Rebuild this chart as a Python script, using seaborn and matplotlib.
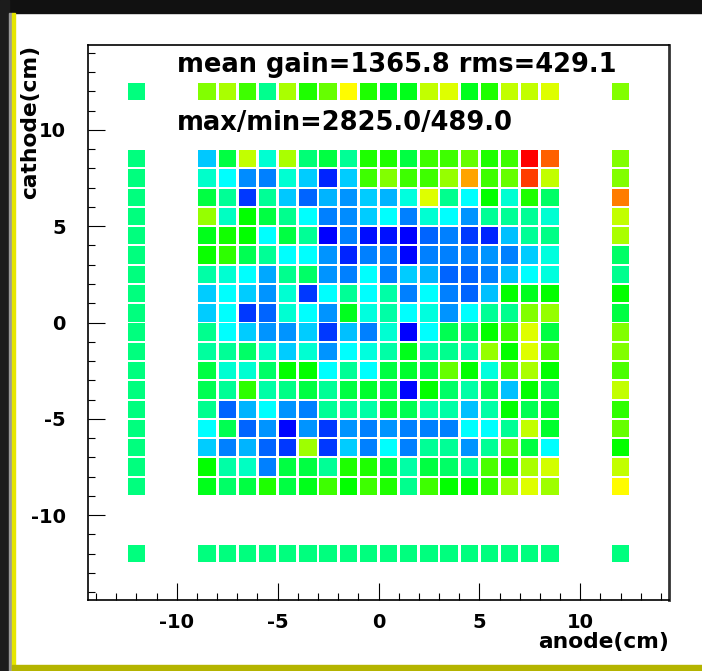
import numpy as np
import pandas as pd
import seaborn as sns
import matplotlib
matplotlib.use('Agg')
import matplotlib.pyplot as plt
from matplotlib.colors import LinearSegmentedColormap
from matplotlib.patches import Rectangle

# channel positions (cm)
anode_cm = [-8.5, -7.5, -6.5, -5.5, -4.5, -3.5, -2.5, -1.5, -0.5,
            0.5, 1.5, 2.5, 3.5, 4.5, 5.5, 6.5, 7.5, 8.5]
cathode_cm = [8.5, 7.5, 6.5, 5.5, 4.5, 3.5, 2.5, 1.5, 0.5,
              -0.5, -1.5, -2.5, -3.5, -4.5, -5.5, -6.5, -7.5, -8.5]
edge_cm = 12.0

# gain of main pad grid, rows top (cathode 8.5) to bottom, columns anode -8.5 .. 8.5
gain_main = [
    [946, 1510, 2095, 1180, 2045, 1390, 1510, 1316, 1725, 1725, 1510, 1800, 1800, 1890, 1725, 1800, 2825, 2600],
    [1200, 1073, 810, 790, 1180, 960, 580, 960, 1800, 1950, 1800, 1800, 1998, 2450, 1800, 1890, 2680, 2095],
    [1510, 1316, 625, 1316, 946, 720, 900, 830, 960, 900, 1150, 2160, 1330, 1073, 1657, 1180, 1725, 1420],
    [1998, 1215, 1657, 1510, 1330, 1073, 781, 810, 960, 1073, 781, 1180, 1073, 830, 1316, 1316, 1316, 1180],
    [1600, 1700, 1657, 1073, 1510, 1316, 489, 781, 520, 530, 489, 720, 781, 625, 580, 930, 1316, 1350],
    [1680, 1760, 1472, 1316, 1073, 1073, 830, 580, 781, 781, 500, 781, 781, 781, 830, 781, 960, 1150],
    [1280, 1180, 1073, 880, 1330, 1420, 830, 781, 1073, 781, 960, 900, 720, 720, 781, 930, 1073, 1150],
    [960, 1073, 960, 830, 1180, 625, 1073, 1316, 1073, 1280, 781, 1073, 781, 720, 930, 1657, 1590, 1657],
    [960, 1073, 625, 720, 1180, 1073, 830, 1590, 1150, 1280, 1073, 1150, 830, 1073, 1316, 1330, 1950, 1998],
    [1330, 1073, 960, 830, 830, 960, 625, 930, 781, 1180, 489, 1073, 1472, 1420, 1657, 1800, 2160, 1510],
    [1300, 1316, 1420, 1215, 960, 1180, 830, 1073, 1150, 1280, 1600, 1280, 1330, 1280, 1998, 1657, 2160, 1830],
    [1510, 1180, 1180, 1420, 1657, 1657, 1073, 1316, 1073, 1510, 1550, 1510, 1890, 1657, 1150, 1800, 2045, 1657],
    [1472, 1316, 1760, 1280, 1350, 1510, 1316, 1510, 1550, 1510, 500, 1657, 1420, 1280, 1472, 930, 1657, 1472],
    [1330, 720, 900, 1073, 830, 781, 1316, 1316, 1280, 1510, 1472, 1280, 1280, 930, 1280, 1657, 1472, 1550],
    [1073, 1472, 720, 830, 500, 830, 625, 830, 781, 830, 781, 781, 781, 1073, 1073, 1316, 2095, 1550],
    [960, 781, 900, 720, 625, 2020, 625, 960, 781, 1073, 781, 1316, 1316, 830, 1316, 1890, 1510, 1073],
    [1657, 1280, 1215, 781, 1510, 1510, 1316, 1725, 1725, 1510, 1280, 1510, 1420, 1316, 1830, 1725, 2045, 2140],
    [1600, 1420, 1510, 1725, 1510, 1600, 1800, 1657, 1800, 1725, 1330, 1800, 1657, 1657, 1760, 2020, 2160, 2020],
]

# outer strips
gain_top = [1950, 2045, 1800, 1330, 2045, 1725, 1890, 2241, 1725,
            1590, 1600, 2095, 2160, 1590, 1725, 2095, 2095, 2160]
gain_bottom = [1365.8, 1365.8, 1365.8, 1365.8, 1365.8, 1365.8, 1365.8, 1365.8, 1365.8,
               1365.8, 1365.8, 1365.8, 1365.8, 1365.8, 1365.8, 1365.8, 1365.8, 1365.8]
gain_left = [1365.8, 1365.8, 1365.8, 1365.8, 1365.8, 1365.8, 1365.8, 1365.8, 1365.8,
             1365.8, 1365.8, 1365.8, 1365.8, 1365.8, 1365.8, 1365.8, 1365.8, 1365.8]
gain_right = [1950, 1950, 2533, 2095, 2045, 1420, 1330, 1657, 1510,
              1950, 1950, 1830, 2095, 1760, 1890, 1657, 2095, 2241]
gain_corners = {'tl': 1365.8, 'tr': 1950, 'bl': 1365.8, 'br': 1365.8}

gain_min, gain_max = 489.0, 2825.0

# long table
rows = []
for i, yc in enumerate(cathode_cm):
    for j, xc in enumerate(anode_cm):
        rows.append((xc, yc, gain_main[i][j]))
for j, xc in enumerate(anode_cm):
    rows.append((xc, edge_cm, gain_top[j]))
    rows.append((xc, -edge_cm, gain_bottom[j]))
for i, yc in enumerate(cathode_cm):
    rows.append((-edge_cm, yc, gain_left[i]))
    rows.append((edge_cm, yc, gain_right[i]))
rows.append((-edge_cm, edge_cm, gain_corners['tl']))
rows.append((edge_cm, edge_cm, gain_corners['tr']))
rows.append((-edge_cm, -edge_cm, gain_corners['bl']))
rows.append((edge_cm, -edge_cm, gain_corners['br']))
df = pd.DataFrame(rows, columns=['anode', 'cathode', 'gain'])

sns.set_theme(style='white')
plt.rcParams['font.family'] = ['DejaVu Sans']
plt.rcParams['font.weight'] = 'bold'
plt.rcParams['axes.unicode_minus'] = False
plt.rcParams['text.color'] = 'black'
plt.rcParams['axes.labelcolor'] = 'black'
plt.rcParams['xtick.color'] = 'black'
plt.rcParams['ytick.color'] = 'black'

root_cmap = LinearSegmentedColormap.from_list(
    'root', ['#0000ff', '#00ffff', '#00ff00', '#ffff00', '#ff0000'])

fig = plt.figure(figsize=(7.02, 6.71), dpi=100)
fig.patch.set_facecolor('white')
W, H = 702.0, 671.0
ax = fig.add_axes([88 / W, 1 - 600 / H, 581 / W, 555 / H])
ax.set_facecolor('white')
ax.set_xlim(-14.4, 14.4)
ax.set_ylim(-14.4, 14.4)

# square marker side from the axis scale: pads are ~0.86 cm wide
p0 = ax.transData.transform((0, 0))
p1 = ax.transData.transform((1, 0))
side_pt = 0.86 * (p1[0] - p0[0]) * 72.0 / fig.dpi

sns.scatterplot(data=df, x='anode', y='cathode', hue='gain', palette=root_cmap,
                hue_norm=(gain_min, gain_max), marker='s', s=side_pt ** 2,
                linewidth=0, legend=False, ax=ax)
ax.set_xlim(-14.4, 14.4)
ax.set_ylim(-14.4, 14.4)

ax.set_xticks([-10, -5, 0, 5, 10])
ax.set_yticks([-10, -5, 0, 5, 10])
ax.set_xticks(np.arange(-14, 15, 1), minor=True)
ax.set_yticks(np.arange(-14, 15, 1), minor=True)
ax.tick_params(which='both', direction='in', top=False, right=False,
               bottom=True, left=True, color='black', labelcolor='black', width=0.8)
ax.tick_params(which='major', length=12)
ax.tick_params(which='minor', length=5.3)
ax.tick_params(axis='x', which='major', pad=9, labelsize=14)
ax.tick_params(axis='y', which='major', pad=16, labelsize=14)
for lab in ax.get_xticklabels() + ax.get_yticklabels():
    lab.set_fontweight('bold')

for sp in ax.spines.values():
    sp.set_color('black')
    sp.set_linewidth(1.2)
ax.spines['right'].set_color('#333333')
ax.spines['right'].set_linewidth(2)

ax.set_xlabel('anode(cm)', fontsize=15.7, fontweight='bold', loc='right', color='black')
ax.xaxis.set_label_coords(1.0, -0.058)
ax.set_ylabel('cathode(cm)', fontsize=15.7, fontweight='bold', loc='top', color='black')
ax.yaxis.set_label_coords(-0.082, 1.0)

ax.text(-10, 13, 'mean gain=1365.8 rms=429.1', fontsize=18.5, fontweight='bold',
        color='black', ha='left', va='baseline')
ax.text(-10, 10, 'max/min=2825.0/489.0', fontsize=18.5, fontweight='bold',
        color='black', ha='left', va='baseline')

# screenshot frame
frame = [
    (0, 0, W, 13, '#111111'),
    (0, 0, 9, H, '#1c1c1c'),
    (9, 13, 3, H, '#9a9a9a'),
    (12, 13, 3, H, '#e6e600'),
    (12, 665, W, 6, '#b4b400'),
]
for x0, y0, w, h, c in frame:
    fig.patches.append(Rectangle((x0 / W, 1 - (y0 + h) / H), w / W, h / H,
                                 transform=fig.transFigure, color=c, zorder=0))

fig.savefig('out.png', dpi=100)
